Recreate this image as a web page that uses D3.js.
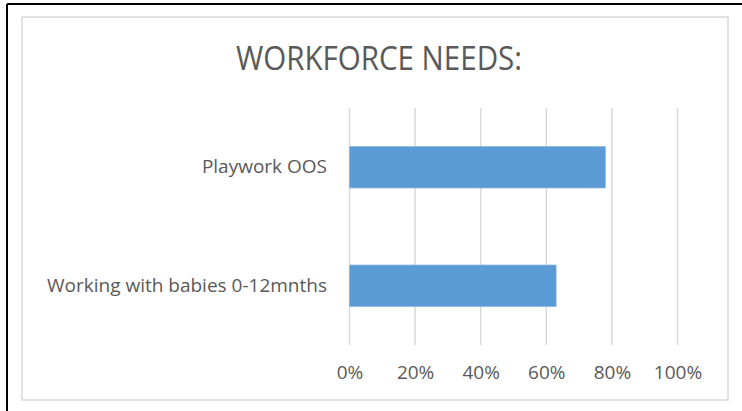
<!DOCTYPE html>
<html>
    <head>
        <meta charset="utf-8">
        <style>
            html, body {
                margin: 0px;
                padding: 0px;
                background-color: #fff;
            }
            svg text {
                font-family: "Open Sans", sans-serif;
                fill: #595959;
            }
            .title {
                font-size: 32px;
                font-weight: 400;
            }
            .axis .domain, .axis line {
                stroke: none;
            }
            .grid line {
                stroke: #d9d9d9;
                stroke-width: 1.5;
            }
        </style>
        <script src="https://cdn.jsdelivr.net/npm/d3@7"></script>
    </head>
    <body>
        <div id="main"></div>
        <script>
            var categories = ["Playwork OOS", "Working with babies 0-12mnths"];
            var values = [0.78, 0.63];
            var ticks = [0, 0.2, 0.4, 0.6, 0.8, 1.0];

            var width = 742;
            var height = 411;

            var svg = d3.select("#main")
                .append("svg")
                .attr("width", width)
                .attr("height", height);

            // outer frame (black, only top and left visible)
            svg.append("line").attr("x1", 7).attr("x2", width).attr("y1", 4).attr("y2", 4)
                .attr("stroke", "#000").attr("stroke-width", 2);
            svg.append("line").attr("x1", 7).attr("x2", 7).attr("y1", 4).attr("y2", height)
                .attr("stroke", "#000").attr("stroke-width", 2);

            // chart area border
            svg.append("rect")
                .attr("x", 22).attr("y", 17)
                .attr("width", 706).attr("height", 383)
                .attr("fill", "#fff")
                .attr("stroke", "#d9d9d9")
                .attr("stroke-width", 1.5);

            svg.append("text")
                .attr("class", "title")
                .attr("x", 379)
                .attr("y", 70)
                .attr("textLength", 286)
                .attr("lengthAdjust", "spacingAndGlyphs")
                .style("text-anchor", "middle")
                .text("WORKFORCE NEEDS:");

            var x = d3.scaleLinear().domain([0, 1]).range([349.5, 677.5]);
            var y = d3.scaleBand().domain(categories).range([108, 345])
                .paddingInner(0.65).paddingOuter(0.325);

            svg.append("g")
                .attr("class", "grid")
                .selectAll("line")
                .data(ticks)
                .enter()
                .append("line")
                .attr("x1", function(d) { return x(d); })
                .attr("x2", function(d) { return x(d); })
                .attr("y1", 108)
                .attr("y2", 345);

            svg.append("g")
                .selectAll("rect")
                .data(values)
                .enter()
                .append("rect")
                .attr("x", x(0))
                .attr("y", function(d, i) { return y(categories[i]); })
                .attr("width", function(d) { return x(d) - x(0); })
                .attr("height", y.bandwidth())
                .attr("fill", "#5b9bd5")
                .attr("stroke", "#8db7e3")
                .attr("stroke-width", 0.75);

            svg.append("g")
                .attr("class", "axis")
                .attr("transform", "translate(0,345)")
                .call(d3.axisBottom(x).tickValues(ticks).tickFormat(d3.format(".0%")).tickSize(0).tickPadding(21))
                .selectAll("text")
                .style("font-family", "'Open Sans', sans-serif")
                .style("font-size", "19px")
                .style("fill", "#595959");

            svg.append("g")
                .attr("class", "axis")
                .attr("transform", "translate(349,0)")
                .call(d3.axisLeft(y).tickSize(0).tickPadding(22))
                .selectAll("text")
                .style("font-family", "'Open Sans', sans-serif")
                .style("font-size", "19px")
                .style("fill", "#595959");
        </script>
    </body>
</html>
